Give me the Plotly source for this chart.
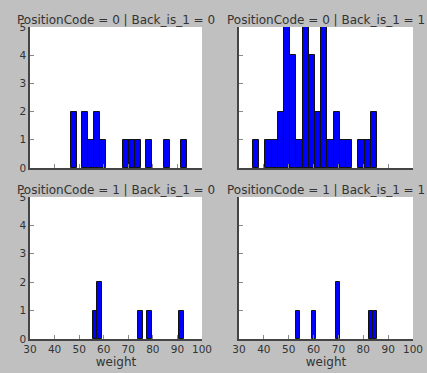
import plotly.graph_objects as go
from plotly.subplots import make_subplots

# ---- data: 20-bin histograms per facet (bin range start/end + counts) ----
titles = ["PositionCode = 0 | Back_is_1 = 0", "PositionCode = 0 | Back_is_1 = 1",
          "PositionCode = 1 | Back_is_1 = 0", "PositionCode = 1 | Back_is_1 = 1"]
range_p0_b0 = [46.6, 93.9]
counts_p0_b0 = [2, 0, 2, 1, 2, 1, 0, 0, 0, 1, 1, 1, 0, 1, 0, 0, 1, 0, 0, 1]
range_p0_b1 = [35.6, 85.5]
counts_p0_b1 = [1, 0, 1, 1, 2, 5, 4, 1, 5, 4, 2, 5, 1, 2, 1, 1, 0, 1, 1, 2]
range_p1_b0 = [55.5, 92.5]
counts_p1_b0 = [1, 2, 0, 0, 0, 0, 0, 0, 0, 0, 1, 0, 1, 0, 0, 0, 0, 0, 0, 1]
range_p1_b1 = [52.8, 85.4]
counts_p1_b1 = [1, 0, 0, 0, 1, 0, 0, 0, 0, 0, 2, 0, 0, 0, 0, 0, 0, 0, 1, 1]
x_ticks = [30, 40, 50, 60, 70, 80, 90, 100]
y_ticks = [0, 1, 2, 3, 4, 5]
x_label = "weight"

panels = [(range_p0_b0, counts_p0_b0), (range_p0_b1, counts_p0_b1),
          (range_p1_b0, counts_p1_b0), (range_p1_b1, counts_p1_b1)]

W, H = 427, 373
BG = "#c0c0c0"
fig = make_subplots(rows=2, cols=2, horizontal_spacing=0.08, vertical_spacing=0.08)

FONT = "DejaVu Sans"
TXT = "#333333"

xdom = [[30 / W, 202 / W], [239 / W, 413 / W]]
ydom = [[1 - 168 / H, 1 - 27 / H], [1 - 339 / H, 1 - 197 / H]]

for i, (rng, counts) in enumerate(panels):
    r, c = i // 2 + 1, i % 2 + 1
    n = len(counts)
    bw = (rng[1] - rng[0]) / n
    centers = [rng[0] + bw * (k + 0.5) for k in range(n)]
    lw = [1 if v > 0 else 0 for v in counts]
    fig.add_trace(go.Bar(x=centers, y=counts, width=[bw] * n,
                         marker=dict(color="#0000ff", line=dict(color="#111111", width=lw)),
                         showlegend=False, cliponaxis=True, hoverinfo="skip"),
                  row=r, col=c)
    fig.update_xaxes(range=[30, 100], tickvals=x_ticks, ticks="inside", ticklen=4,
                     tickcolor="#888888", showline=True, linecolor="#444444", linewidth=1.5,
                     showgrid=False, zeroline=False, domain=xdom[c - 1], automargin=False,
                     showticklabels=(r == 2),
                     tickfont=dict(family=FONT, size=10.5, color=TXT),
                     title=dict(text=x_label if r == 2 else "", font=dict(family=FONT, size=12, color=TXT),
                                standoff=0),
                     row=r, col=c)
    fig.update_yaxes(range=[0, 5], tickvals=y_ticks, ticks="inside", ticklen=4,
                     tickcolor="#888888", showline=True, linecolor="#444444", linewidth=1.5,
                     showgrid=False, zeroline=False, domain=ydom[r - 1], automargin=False,
                     showticklabels=(c == 1),
                     tickfont=dict(family=FONT, size=10.5, color=TXT),
                     row=r, col=c)
    fig.add_annotation(text=titles[i], xref="paper", yref="paper",
                       x=(xdom[c - 1][0] + xdom[c - 1][1]) / 2, y=ydom[r - 1][1],
                       xanchor="center", yanchor="middle", yshift=7, showarrow=False,
                       font=dict(family=FONT, size=12, color=TXT))

fig.update_layout(width=W, height=H, margin=dict(l=0, r=0, t=0, b=0),
                  paper_bgcolor=BG, plot_bgcolor="#ffffff", bargap=0,
                  font=dict(family=FONT, color=TXT))

fig.write_html("out.html", config={"displayModeBar": False},
               post_script="document.body.style.margin='0';document.body.style.background='%s';" % BG)
